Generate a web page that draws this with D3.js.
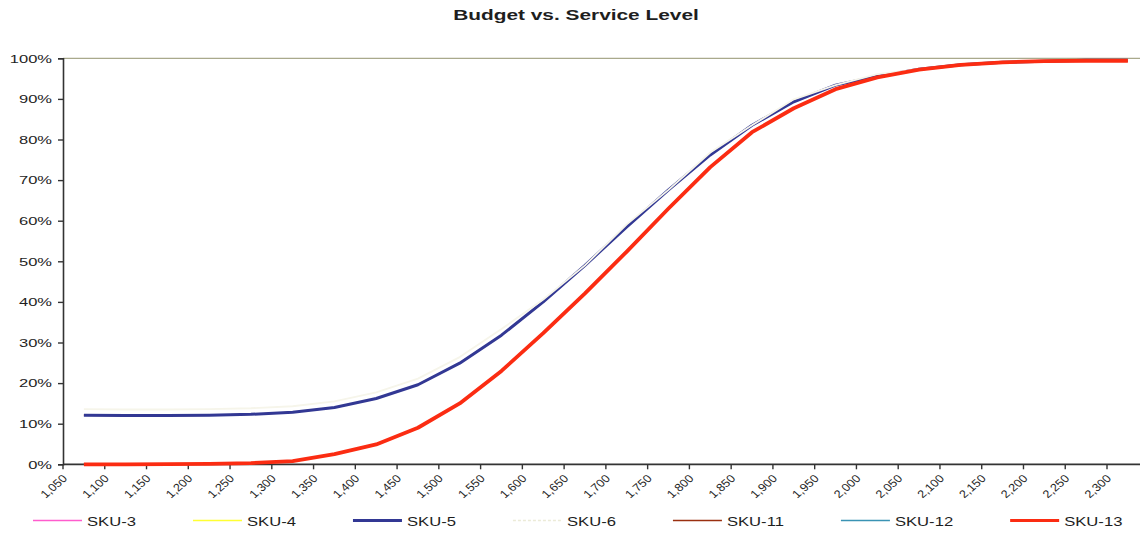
<!DOCTYPE html>
<html>
<head>
<meta charset="utf-8">
<script src="https://cdn.jsdelivr.net/npm/d3@7"></script>
<style>
  html, body { margin: 0; padding: 0; background: #fff; }
  svg { display: block; }
  text { font-family: "Liberation Sans", Arial, sans-serif; fill: #1e1e1e; }
</style>
</head>
<body>
<svg id="chart" width="1140" height="533"></svg>
<script>
// Budget levels (category axis)
const budgets = ["1,050","1,100","1,150","1,200","1,250","1,300","1,350","1,400","1,450","1,500",
                 "1,550","1,600","1,650","1,700","1,750","1,800","1,850","1,900","1,950","2,000",
                 "2,050","2,100","2,150","2,200","2,250","2,300"];

// Service level (%) reached at each budget, per SKU
const sku3  = [12.1,12.0,12.0,12.1,12.3,12.8,14.0,16.2,19.6,24.9,31.8,40.0,49.0,58.5,67.6,76.2,83.5,89.3,93.4,95.6,97.3,98.4,99.0,99.3,99.5,99.5];
const sku4  = [12.1,12.0,12.0,12.1,12.3,12.8,14.0,16.2,19.6,24.9,31.8,40.0,49.0,58.5,67.6,76.2,83.5,89.3,93.4,95.6,97.3,98.4,99.0,99.3,99.5,99.5];
const sku5  = [12.1,12.0,12.0,12.1,12.3,12.8,14.0,16.2,19.6,24.9,31.8,40.0,49.0,58.5,67.6,76.2,83.5,89.3,93.4,95.6,97.3,98.4,99.0,99.3,99.5,99.5];
const sku6  = [13.6,13.5,13.5,13.6,13.8,14.3,15.5,17.7,21.1,26.4,33.3,40.6,49.0,59.1,67.6,76.8,83.5,89.9,93.4,96.1,97.3,98.4,99.0,99.3,99.5,99.5];
const sku11 = [0.0,0.0,0.05,0.1,0.3,0.8,2.5,4.9,9.0,15.0,23.0,32.3,42.1,52.4,63.0,73.2,81.8,87.7,92.4,95.3,97.2,98.4,99.0,99.3,99.4,99.4];
const sku12 = [0.0,0.0,0.05,0.1,0.3,0.8,2.5,4.9,9.0,15.0,23.0,32.3,42.1,52.4,63.0,73.2,81.8,87.7,92.4,95.3,97.2,98.4,99.0,99.3,99.4,99.4];
const sku13 = [0.0,0.0,0.05,0.1,0.3,0.8,2.5,4.9,9.0,15.0,23.0,32.3,42.1,52.4,63.0,73.2,81.8,87.7,92.4,95.3,97.2,98.4,99.0,99.3,99.4,99.4];

const yTicks = [0,10,20,30,40,50,60,70,80,90,100];

const series = [
  { name: "SKU-3",  values: sku3,  color: "#ff5ccd", width: 1.5 },
  { name: "SKU-4",  values: sku4,  color: "#ffff33", width: 1.5 },
  { name: "SKU-5",  values: sku5,  color: "#323894", width: 3.0 },
  { name: "SKU-6",  values: sku6,  color: "#f6f5ea", width: 1.8, legendDash: "3,2" },
  { name: "SKU-11", values: sku11, color: "#9a3010", width: 1.5 },
  { name: "SKU-12", values: sku12, color: "#3a93b4", width: 1.5 },
  { name: "SKU-13", values: sku13, color: "#fb2c12", width: 3.8 }
];

const svg = d3.select("#chart");

const plotLeft = 63, plotTop = 58.3, plotBottom = 464.3;
const band = 41.76;
const x = d3.scaleBand().domain(budgets).range([plotLeft, plotLeft + band * budgets.length]).padding(0);
const y = d3.scaleLinear().domain([0, 100]).range([plotBottom, plotTop]);

// Title
svg.append("text")
  .attr("transform", "translate(576,20) scale(1.39,1)")
  .attr("text-anchor", "middle")
  .style("font-size", "15px")
  .style("font-weight", "bold")
  .text("Budget vs. Service Level");

// 100% reference line across the plot
svg.append("line")
  .attr("x1", plotLeft).attr("x2", x.range()[1])
  .attr("y1", y(100)).attr("y2", y(100))
  .attr("stroke", "#a9a98c").attr("stroke-width", 1.2);

// Y axis
const yAxis = svg.append("g").attr("transform", `translate(${plotLeft},0)`)
  .call(d3.axisLeft(y).tickValues(yTicks).tickSize(5).tickFormat(d => d + "%"));
yAxis.select(".domain").attr("stroke", "#333").attr("stroke-width", 1.6);
yAxis.selectAll(".tick line").attr("stroke", "#333").attr("stroke-width", 1.4);
yAxis.selectAll(".tick text").remove();
yAxis.selectAll(".tick").append("text")
  .attr("transform", "translate(-11,0) scale(1.5,1)")
  .attr("dy", "0.35em")
  .attr("text-anchor", "end")
  .style("font-size", "11px")
  .text(d => d + "%");

// X axis: ticks at band edges, labels rotated
const xAxisG = svg.append("g").attr("transform", `translate(0,${plotBottom})`);
xAxisG.append("line")
  .attr("x1", plotLeft).attr("x2", x.range()[1])
  .attr("stroke", "#333").attr("stroke-width", 1.8);
xAxisG.selectAll("line.tick")
  .data(budgets).enter().append("line")
  .attr("class", "tick")
  .attr("x1", d => x(d)).attr("x2", d => x(d))
  .attr("y1", 0).attr("y2", 5)
  .attr("stroke", "#333").attr("stroke-width", 1.4);
xAxisG.selectAll("text")
  .data(budgets).enter().append("text")
  .attr("transform", d => `translate(${x(d) + 5},15) scale(1.15,1) rotate(-45)`)
  .attr("text-anchor", "end")
  .style("font-size", "11px")
  .text(d => d);

// Series lines
const line = d3.line()
  .x((d, i) => x(budgets[i]) + x.bandwidth() / 2)
  .y(d => y(d));

svg.append("g").selectAll("path")
  .data(series).enter().append("path")
  .attr("d", d => line(d.values))
  .attr("fill", "none")
  .attr("stroke", d => d.color)
  .attr("stroke-width", d => d.width)
  .attr("stroke-linejoin", "round");

// Legend
const legend = svg.append("g");
let lx = 33;
const ly = 520.5;
series.forEach(s => {
  legend.append("line")
    .attr("x1", lx).attr("x2", lx + 49)
    .attr("y1", ly).attr("y2", ly)
    .attr("stroke", s.legendDash ? "#ecebd8" : s.color)
    .attr("stroke-width", s.width < 2 ? 1.6 : 3.2)
    .attr("stroke-dasharray", s.legendDash || null);
  const t = legend.append("text")
    .attr("transform", `translate(${lx + 54},${ly + 5}) scale(1.28,1)`)
    .style("font-size", "13px")
    .text(s.name);
  const w = t.node().getComputedTextLength() * 1.28;
  lx = lx + 54 + w + 57;
});
</script>
</body>
</html>
